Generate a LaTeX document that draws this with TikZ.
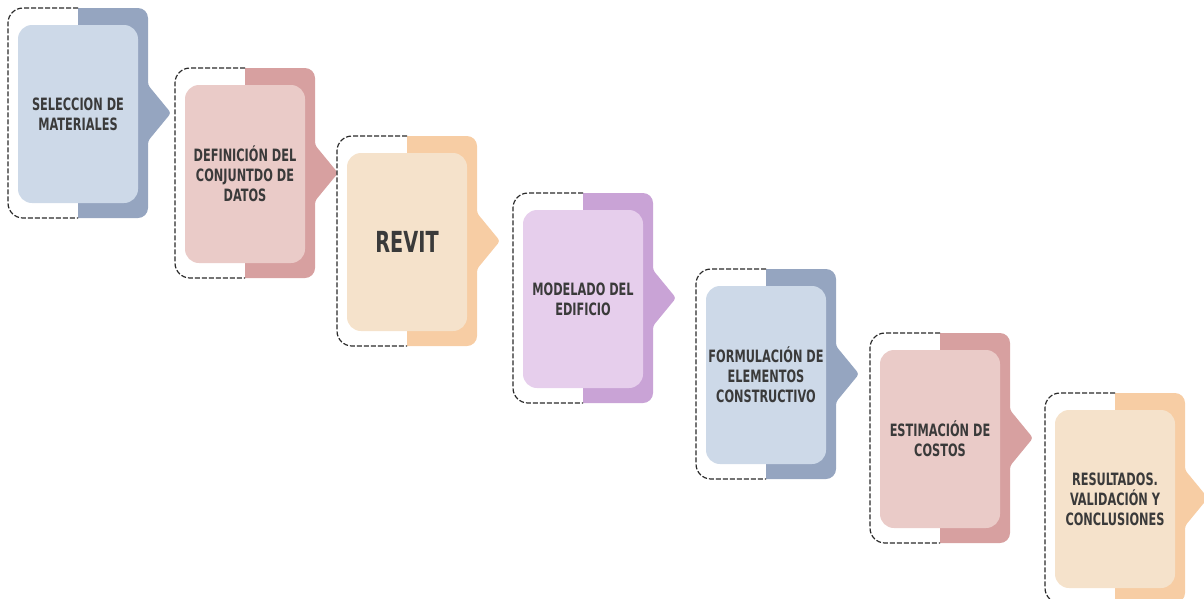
\documentclass[tikz,border=0pt]{standalone}
\usepackage{fontspec}
\setmainfont[FakeStretch=0.74]{DejaVu Sans Condensed}
\usetikzlibrary{positioning}
\usepackage{xcolor}

\definecolor{blueL}{HTML}{CDD9E8}
\definecolor{blueD}{HTML}{95A5C0}
\definecolor{pinkL}{HTML}{EACBC8}
\definecolor{pinkD}{HTML}{D7A0A0}
\definecolor{peachL}{HTML}{F5E2CB}
\definecolor{peachD}{HTML}{F7CDA4}
\definecolor{lilacL}{HTML}{E6CEEC}
\definecolor{lilacD}{HTML}{C9A3D6}
\definecolor{txtgray}{HTML}{3A3A3A}
\definecolor{framegray}{HTML}{2A2A2A}

\tikzset{
  innerbox/.style={rounded corners=14pt, minimum width=120pt, minimum height=178pt,
    inner sep=0pt, align=center, text=txtgray},
  smalltxt/.style={font=\bfseries\fontsize{17}{20}\selectfont},
  bigtxt/.style={font=\bfseries\fontsize{29}{32}\selectfont},
  dashframe/.style={draw=framegray, line width=1.2pt, dash pattern=on 5pt off 2pt, rounded corners=15pt}
}

\begin{document}
\begin{tikzpicture}[x=1pt,y=-1pt]
  \useasboundingbox (0,0) rectangle (1204,598);

  \foreach \x/\y/\lt/\dk/\fnt/\name/\txt in {
      8/8/blueL/blueD/smalltxt/sel/{SELECCION DE\\MATERIALES},
      175/68/pinkL/pinkD/smalltxt/def/{DEFINICIÓN DEL\\CONJUNTDO DE\\DATOS},
      337/136/peachL/peachD/bigtxt/rev/{REVIT},
      513/193/lilacL/lilacD/smalltxt/mod/{MODELADO DEL\\EDIFICIO},
      696/269/blueL/blueD/smalltxt/form/{FORMULACIÓN DE\\ELEMENTOS\\CONSTRUCTIVO},
      870/333/pinkL/pinkD/smalltxt/est/{ESTIMACIÓN DE\\COSTOS},
      1045/393/peachL/peachD/smalltxt/res/{RESULTADOS.\\VALIDACIÓN Y\\CONCLUSIONES}}
  {
    % tab with arrow
    \fill[\dk] (\x+70,\y+210) -- (\x+70,\y)
      [rounded corners=10pt] -- (\x+140,\y)
      [rounded corners=3pt] -- (\x+140,\y+77) -- (\x+163,\y+105) -- (\x+140,\y+133)
      [rounded corners=10pt] -- (\x+140,\y+210)
      [sharp corners] -- cycle;
    % dashed frame
    \draw[dashframe] (\x+70,\y) -- (\x,\y) -- (\x,\y+210) -- (\x+70,\y+210);
    % inner box
    \node[innerbox, \fnt, fill=\lt] (\name) at (\x+70,\y+106) {\txt};
  }
\end{tikzpicture}
\end{document}
